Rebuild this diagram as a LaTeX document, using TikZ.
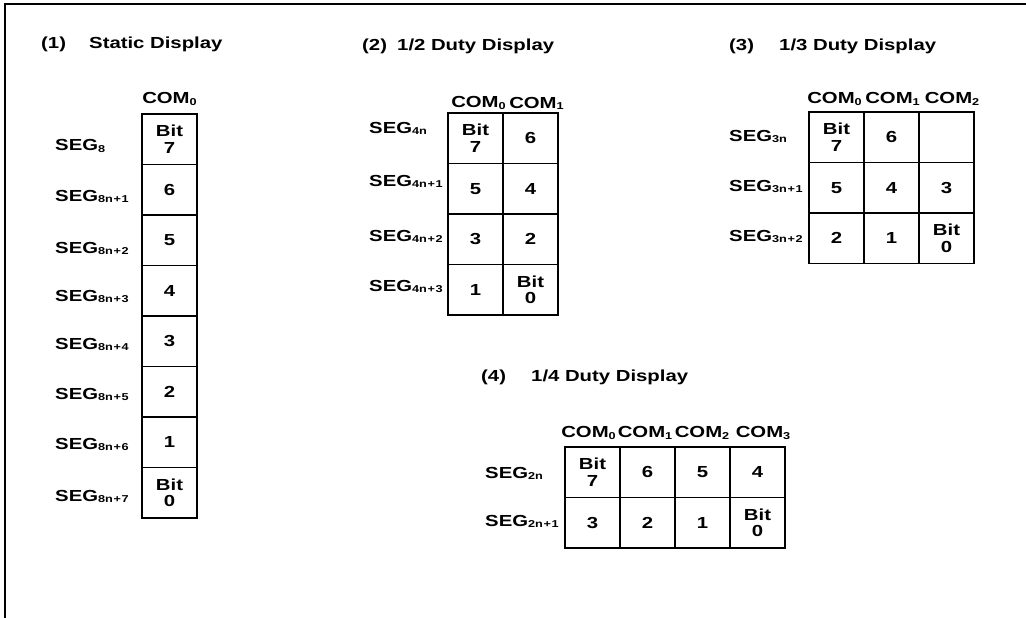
\documentclass[tikz,border=0pt]{standalone}
\usepackage{fontspec}
\setmainfont{Liberation Sans}[FakeStretch=1.27]
\usetikzlibrary{positioning}
\newcommand{\lo}[1]{\raisebox{-1.8pt}{\fontsize{10}{10}\selectfont#1}}
\newcommand{\pl}{\kern0.6pt+\kern0.6pt}

\begin{document}
\begin{tikzpicture}[x=1pt,y=-1pt,font=\fontsize{16}{16.5}\selectfont\bfseries,
    cell/.style={draw,line width=1.7pt,outer sep=0pt,inner sep=0pt,
                 minimum width=55pt,minimum height=50.5pt,align=center},
    title/.style={anchor=base west,inner sep=0pt},
    seg/.style={anchor=base west,inner sep=0pt},
    com/.style={inner sep=0pt}]
    \useasboundingbox (0,0) rectangle (1026,618);
    \draw[line width=2pt] (1026,4) -- (5,4) -- (5,618);

    % (1) static
    \node[title] (num1) at (41,49) {(1)};
    \node[title] (tit1) at (89,49) {Static Display};
    \node[cell] (st7) at (169.5,139.25) {Bit\\7};
    \node[cell,below=0pt of st7] (st6) {6};
    \node[cell,below=0pt of st6] (st5) {5};
    \node[cell,below=0pt of st5] (st4) {4};
    \node[cell,below=0pt of st4] (st3) {3};
    \node[cell,below=0pt of st3] (st2) {2};
    \node[cell,below=0pt of st2] (st1) {1};
    \node[cell,below=0pt of st1] (st0) {Bit\\0};
    \node[com,above=8.5pt of st7] (sc0) {COM\lo{0}};
    \node[seg] (ss0) at (55,150.5) {SEG\lo{8}};
    \node[seg] (ss1) at (55,201) {SEG\lo{8n\pl1}};
    \node[seg] (ss2) at (55,253) {SEG\lo{8n\pl2}};
    \node[seg] (ss3) at (55,301) {SEG\lo{8n\pl3}};
    \node[seg] (ss4) at (55,349) {SEG\lo{8n\pl4}};
    \node[seg] (ss5) at (55,399) {SEG\lo{8n\pl5}};
    \node[seg] (ss6) at (55,449) {SEG\lo{8n\pl6}};
    \node[seg] (ss7) at (55,501) {SEG\lo{8n\pl7}};

    % (2) 1/2 duty
    \node[title] (num2) at (362,51) {(2)};
    \node[title] (tit2) at (397,51) {1/2 Duty Display};
    \node[cell] (hb7) at (475.5,138.25) {Bit\\7};
    \node[cell,right=0pt of hb7] (hb6) {6};
    \node[cell,below=0pt of hb7] (hb5) {5};
    \node[cell,right=0pt of hb5] (hb4) {4};
    \node[cell,below=0pt of hb5] (hb3) {3};
    \node[cell,right=0pt of hb3] (hb2) {2};
    \node[cell,below=0pt of hb3] (hb1) {1};
    \node[cell,right=0pt of hb1] (hb0) {Bit\\0};
    \node[com,above=3pt of hb7,xshift=3pt] (hc0) {COM\lo{0}};
    \node[com,above=3pt of hb6,xshift=6pt] (hc1) {COM\lo{1}};
    \node[seg] (hs0) at (369,133) {SEG\lo{4n}};
    \node[seg] (hs1) at (369,186) {SEG\lo{4n\pl1}};
    \node[seg] (hs2) at (369,241) {SEG\lo{4n\pl2}};
    \node[seg] (hs3) at (369,291) {SEG\lo{4n\pl3}};

    % (3) 1/3 duty
    \node[title] (num3) at (729,51) {(3)};
    \node[title] (tit3) at (779,51) {1/3 Duty Display};
    \node[cell] (tb7) at (836.5,137.25) {Bit\\7};
    \node[cell,right=0pt of tb7] (tb6) {6};
    \node[cell,right=0pt of tb6] (tbx) {};
    \node[cell,below=0pt of tb7] (tb5) {5};
    \node[cell,right=0pt of tb5] (tb4) {4};
    \node[cell,right=0pt of tb4] (tb3) {3};
    \node[cell,below=0pt of tb5] (tb2) {2};
    \node[cell,right=0pt of tb2] (tb1) {1};
    \node[cell,right=0pt of tb1] (tb0) {Bit\\0};
    \node[com,above=6.5pt of tb7,xshift=-2pt] (tc0) {COM\lo{0}};
    \node[com,above=6.5pt of tb6,xshift=1pt] (tc1) {COM\lo{1}};
    \node[com,above=6.5pt of tbx,xshift=5.5pt] (tc2) {COM\lo{2}};
    \node[seg] (ts0) at (729,141) {SEG\lo{3n}};
    \node[seg] (ts1) at (729,191) {SEG\lo{3n\pl1}};
    \node[seg] (ts2) at (729,241) {SEG\lo{3n\pl2}};

    % (4) 1/4 duty
    \node[title] (num4) at (481,381) {(4)};
    \node[title] (tit4) at (531,381) {1/4 Duty Display};
    \node[cell] (qb7) at (592.5,472.25) {Bit\\7};
    \node[cell,right=0pt of qb7] (qb6) {6};
    \node[cell,right=0pt of qb6] (qb5) {5};
    \node[cell,right=0pt of qb5] (qb4) {4};
    \node[cell,below=0pt of qb7] (qb3) {3};
    \node[cell,right=0pt of qb3] (qb2) {2};
    \node[cell,right=0pt of qb2] (qb1) {1};
    \node[cell,right=0pt of qb1] (qb0) {Bit\\0};
    \node[com,above=7.5pt of qb7,xshift=-4pt] (qc0) {COM\lo{0}};
    \node[com,above=7.5pt of qb6,xshift=-2.5pt] (qc1) {COM\lo{1}};
    \node[com,above=7.5pt of qb5,xshift=-0.5pt] (qc2) {COM\lo{2}};
    \node[com,above=7.5pt of qb4,xshift=5.5pt] (qc3) {COM\lo{3}};
    \node[seg] (qs0) at (485,478) {SEG\lo{2n}};
    \node[seg] (qs1) at (485,526) {SEG\lo{2n\pl1}};
\end{tikzpicture}
\end{document}
